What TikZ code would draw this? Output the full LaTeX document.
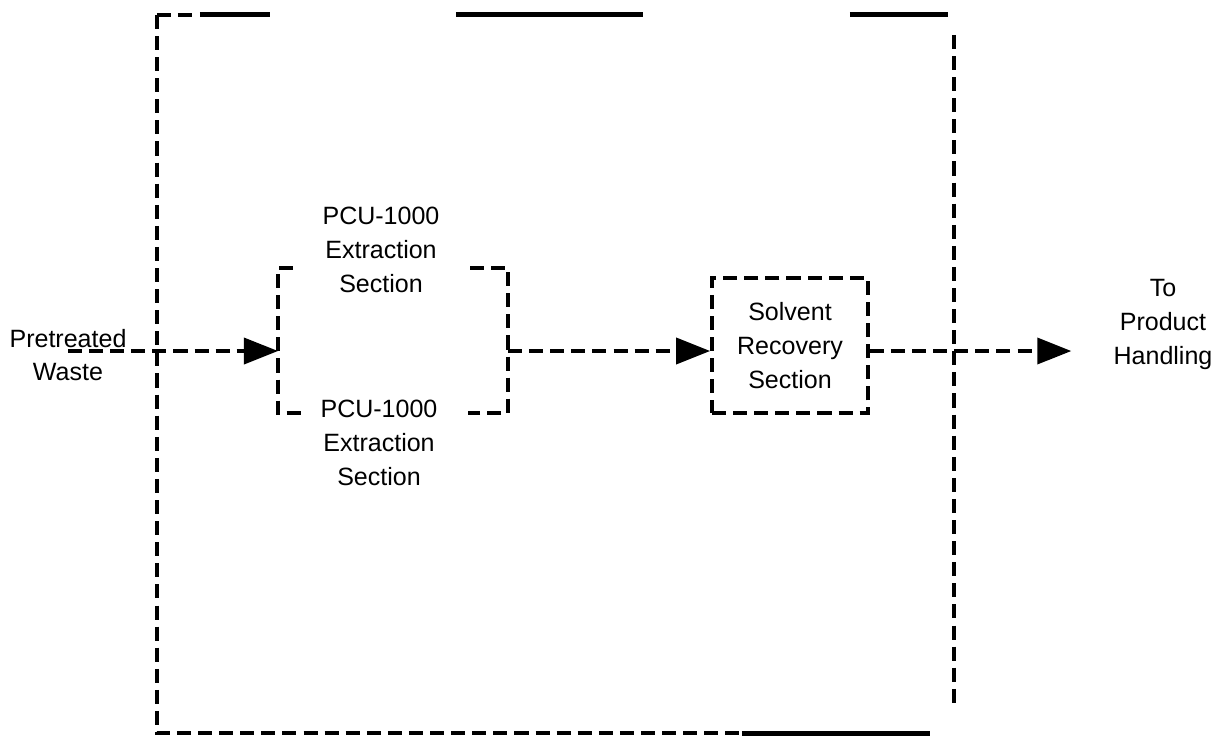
\documentclass[tikz,border=0pt]{standalone}
\usepackage{fontspec}
\setmainfont{Liberation Sans}
\usetikzlibrary{arrows.meta}

\begin{document}
\begin{tikzpicture}[x=0.025cm, y=-0.025cm]
        \tikzstyle{stream}=[line width=2.6pt, dash pattern=on 10pt off 5pt]
        \tikzstyle{feed}=[stream, -{Triangle[length=0.85cm, width=0.65cm]}]
        \tikzstyle{limit}=[line width=3.5pt]
        \tikzstyle{desc}=[align=center, inner sep=0pt, font=\fontsize{17.8}{24}\selectfont]
        \useasboundingbox (0, 0) rectangle (1223, 738);
        % \draw[draw=black!20, step=1cm] (0, 0) grid (1223, 738);
        \node[minimum width=19.925cm, minimum height=17.95cm, outer sep=0pt] (boundary) at (555.5, 374) {};
        \node[minimum width=5.75cm, minimum height=3.625cm, outer sep=0pt] (ext) at (393, 340.5) {};
        \node[desc] (waste) at (68, 355) {Pretreated\\Waste};
        \node[desc] (ext-top) at (381, 250) {PCU-1000\\Extraction\\Section};
        \node[desc] (ext-bottom) at (379, 443) {PCU-1000\\Extraction\\Section};
        \node[desc, draw, stream, minimum width=3.9cm, minimum height=3.375cm] (recovery) at (790, 345.5) {Solvent\\Recovery\\Section};
        \node[desc] (product) at (1163, 324.5) {To\\Product\\Handling};
        \coordinate (flow) at (0, 351);

        \draw[stream] (boundary.north west) -- (boundary.south west) -- ++(585, 0);
        \draw[limit] (boundary.south west) ++(585, 0) -- ++(188, 0);
        \draw[stream] (boundary.north west) -- ++(40, 0);
        \draw[limit] (boundary.north west) ++(43, 0) -- ++(70, 0) ++(186, 0) -- ++(187, 0) ++(207, 0) -- ++(98, 0);
        \draw[stream] (boundary.north east) ++(0, 20) -- ++(0, 670);

        \draw[stream] (ext.north west) ++(15, 0) -- (ext.north west) -- (ext.south west) -- ++(25, 0);
        \draw[stream] (ext.north east) ++(-38, 0) -- (ext.north east) -- (ext.south east) -- ++(-40, 0);

        \draw[feed] (waste.center |- flow) -- (ext.west |- flow);
        \draw[feed] (ext.east |- flow) -- (recovery.west |- flow);
        \draw[feed, shorten >=1.05cm] (recovery.east |- flow) -- (product.west |- flow);
    \end{tikzpicture}
\end{document}
